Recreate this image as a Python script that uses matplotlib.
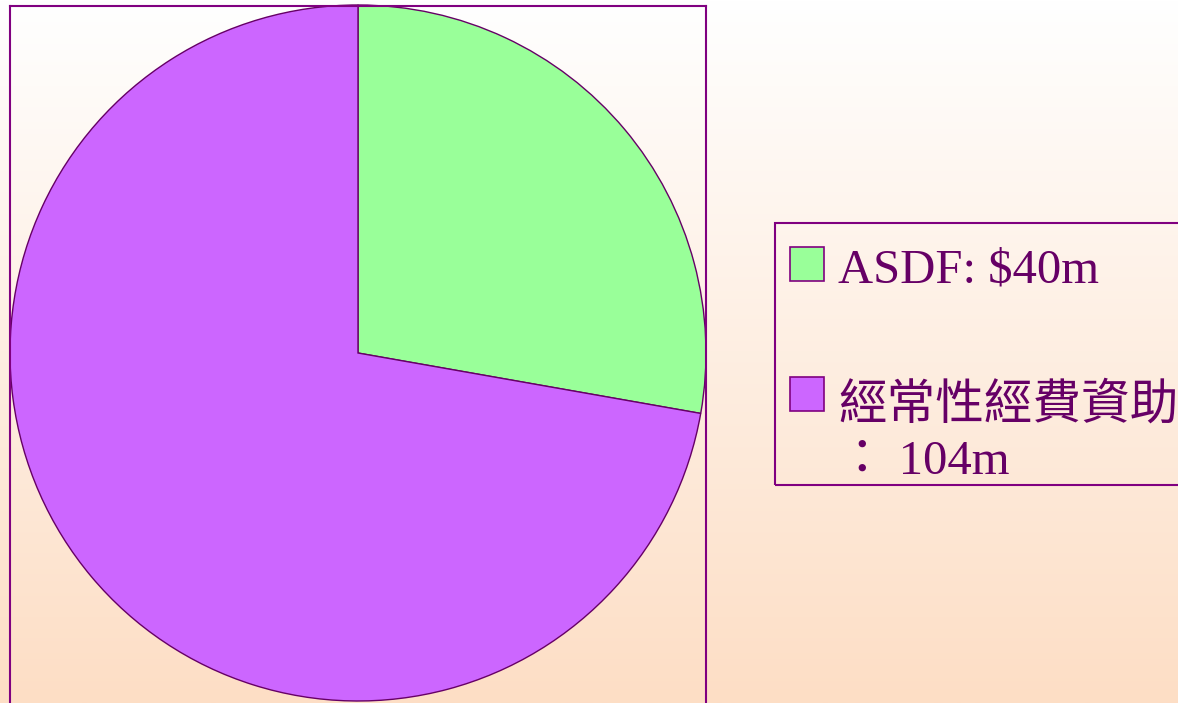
import numpy as np
import matplotlib
matplotlib.use('Agg')
import matplotlib.pyplot as plt
from matplotlib.patches import Rectangle

# data
labels = ['ASDF: $40m', '經常性經費資助\n： 104m']
values = [40, 104]
colors = ['#99FF99', '#CC66FF']

W, H = 1178, 703
edge = '#660066'
box = '#800080'
text_color = '#660066'
fonts = ['Liberation Serif', 'Noto Sans CJK TC', 'DejaVu Sans']


def fx(x):
    return x / W


def fy(y):
    return 1 - y / H


fig = plt.figure(figsize=(W / 100, H / 100), dpi=100)

# background gradient, white on top to peach at bottom
bg = fig.add_axes([0, 0, 1, 1], zorder=0)
top = np.array([255, 255, 255]) / 255
bottom = np.array([253, 222, 197]) / 255
t = np.linspace(0, 1, 256)[:, None]
grad = top[None, :] * (1 - t) + bottom[None, :] * t
bg.imshow(grad[:, None, :], aspect='auto', extent=[0, 1, 0, 1])
bg.axis('off')

# pie in a framed box, box runs off the bottom of the figure
ax = fig.add_axes([fx(10), fy(706), fx(706) - fx(10), fy(6) - fy(706)], zorder=1)
ax.set_facecolor('none')
ax.pie(values, colors=colors, startangle=90, counterclock=False,
       wedgeprops={'edgecolor': edge, 'linewidth': 1.0})
ax.set_aspect('auto')
ax.set_xlim(-1, 1)
ax.set_ylim(-353 / 348, 347 / 348)
ax.set_frame_on(True)
ax.set_xticks([])
ax.set_yticks([])
for s in ax.spines.values():
    s.set_visible(True)
    s.set_color(box)
    s.set_linewidth(1.5)

# legend drawn by hand so it can run off the right edge like the original
fig.patches.append(Rectangle((fx(775), fy(485)), fx(1200) - fx(775), fy(223) - fy(485),
                             transform=fig.transFigure, facecolor='none',
                             edgecolor=box, linewidth=1.5, zorder=2))
sq = 34
for i, (lab, col) in enumerate(zip(labels, colors)):
    y0 = 247 + i * 130
    fig.patches.append(Rectangle((fx(790), fy(y0 + sq)), fx(790 + sq) - fx(790), fy(y0) - fy(y0 + sq),
                                 transform=fig.transFigure, facecolor=col,
                                 edgecolor=box, linewidth=1.2, zorder=3))
    fig.text(fx(838), fy(y0 + 1 + 5 * i), lab, ha='left', va='top', fontsize=35,
             color=text_color, family=fonts, linespacing=1.32, zorder=3)

fig.savefig('out.png', dpi=100)
